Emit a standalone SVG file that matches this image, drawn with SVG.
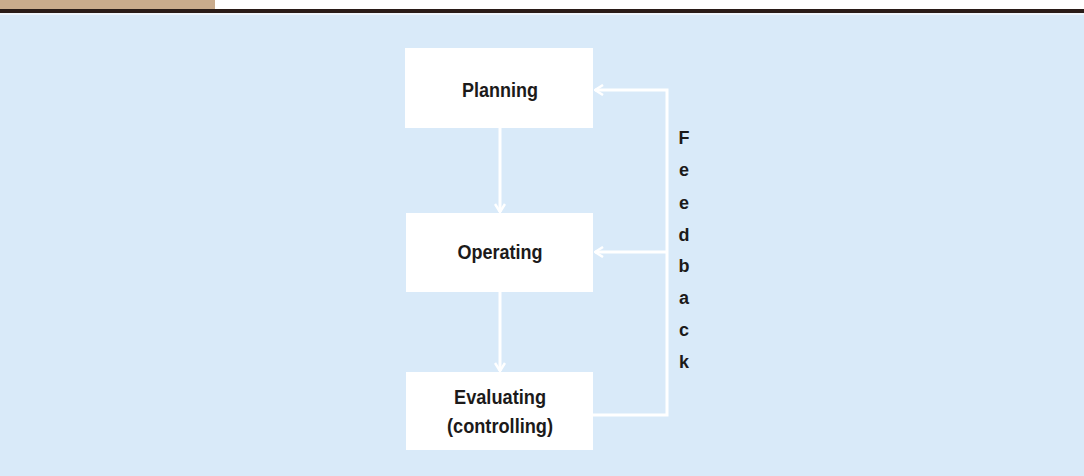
<svg xmlns="http://www.w3.org/2000/svg" width="1084" height="476" viewBox="0 0 1084 476">
<style>
.box{fill:#ffffff}
.lbl{font-family:"Liberation Sans",Arial,sans-serif;font-weight:bold;font-size:20px;fill:#1c1a1a;text-anchor:middle}
.fb{font-family:"Liberation Sans",Arial,sans-serif;font-weight:bold;font-size:18px;fill:#1c1a1a;text-anchor:middle}
.con{fill:none;stroke:#ffffff;stroke-width:3}
</style>
<defs>
<marker id="arr" viewBox="0 0 12 12" refX="11" refY="6" markerWidth="12" markerHeight="12" markerUnits="userSpaceOnUse" orient="auto">
<polyline points="3,1 11,6 3,11" fill="none" stroke="#ffffff" stroke-width="2.5"/>
</marker>
</defs>
<rect x="0" y="0" width="1084" height="476" fill="#d9eaf9"/>
<rect x="0" y="0" width="1084" height="9" fill="#ffffff"/>
<rect x="0" y="0" width="215" height="9" fill="#c9ab8c"/>
<rect x="0" y="9" width="1084" height="4" fill="#2a1c18"/>
<rect x="0" y="13" width="1084" height="2" fill="#eef5fc"/>
<g id="connectors">
<line class="con" x1="500" y1="128" x2="500" y2="212" marker-end="url(#arr)"/>
<line class="con" x1="500" y1="292" x2="500" y2="371" marker-end="url(#arr)"/>
<polyline class="con" points="593,415 667,415 667,90 595,90" marker-end="url(#arr)"/>
<line class="con" x1="667" y1="252" x2="595" y2="252" marker-end="url(#arr)"/>
</g>
<g id="planning">
<rect class="box" x="405" y="48" width="188" height="80"/>
<text class="lbl" x="500" y="97" textLength="76" lengthAdjust="spacingAndGlyphs">Planning</text>
</g>
<g id="operating">
<rect class="box" x="406" y="213" width="187" height="79"/>
<text class="lbl" x="500" y="259" textLength="85" lengthAdjust="spacingAndGlyphs">Operating</text>
</g>
<g id="evaluating">
<rect class="box" x="406" y="372" width="187" height="78"/>
<text class="lbl" x="500" y="404" textLength="92" lengthAdjust="spacingAndGlyphs">Evaluating</text>
<text class="lbl" x="500" y="433" textLength="106" lengthAdjust="spacingAndGlyphs">(controlling)</text>
</g>
<g id="feedback-label">
<text class="fb" x="684" y="144">F</text>
<text class="fb" x="684" y="176">e</text>
<text class="fb" x="684" y="209">e</text>
<text class="fb" x="684" y="241">d</text>
<text class="fb" x="684" y="272">b</text>
<text class="fb" x="684" y="304">a</text>
<text class="fb" x="684" y="336">c</text>
<text class="fb" x="684" y="368">k</text>
</g>
</svg>
